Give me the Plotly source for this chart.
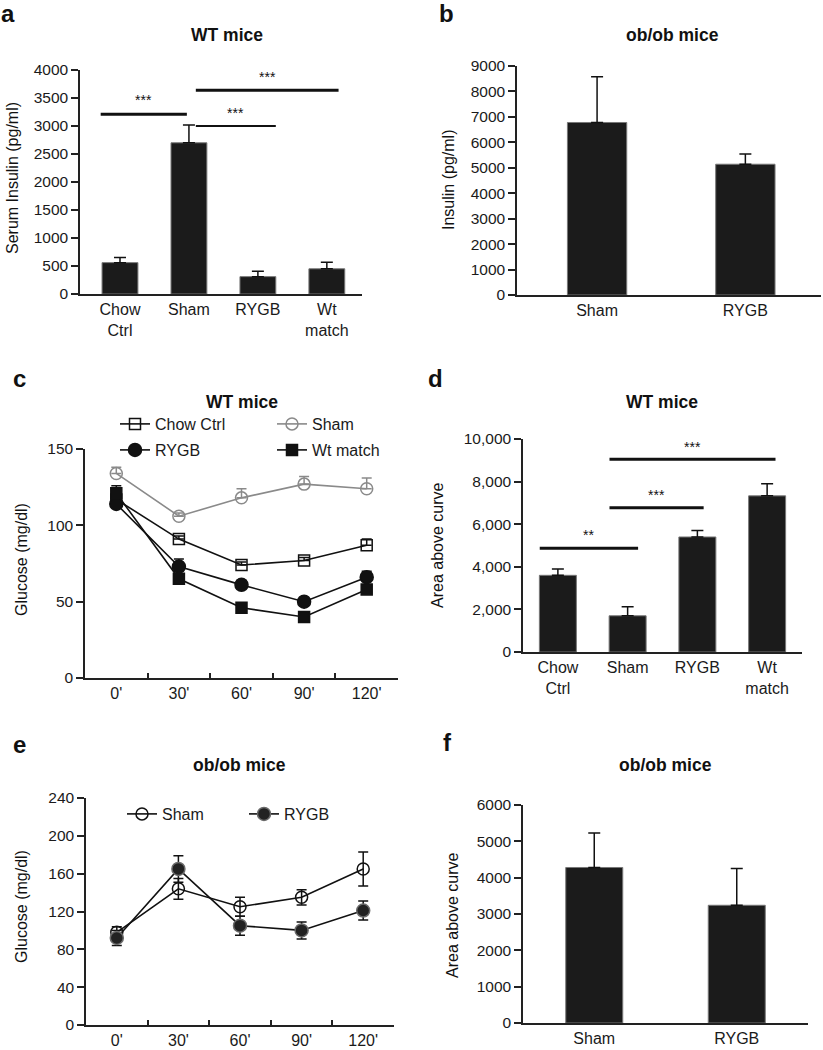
import plotly.graph_objects as go

W, H = 823, 1050
FONT = "Liberation Sans, Arial, sans-serif"

# ---------------- data ----------------
a_groups = ["Chow<br>Ctrl", "Sham", "RYGB", "Wt<br>match"]
a_insulin = [560, 2700, 310, 450]
a_insulin_err = [90, 320, 95, 115]

b_groups = ["Sham", "RYGB"]
b_insulin = [6780, 5140]
b_insulin_err = [1800, 400]

time_labels = ["0'", "30'", "60'", "90'", "120'"]
c_chow = [117, 91, 74, 77, 87]
c_chow_err = [4, 2, 2, 2, 4]
c_sham = [134, 106, 118, 127, 124]
c_sham_err = [4, 2, 6, 5, 7]
c_rygb = [114, 73, 61, 50, 66]
c_rygb_err = [3, 5, 3, 1, 4]
c_wt = [121, 65, 46, 40, 58]
c_wt_err = [5, 1, 1, 1, 1]

d_groups = ["Chow<br>Ctrl", "Sham", "RYGB", "Wt<br>match"]
d_area = [3600, 1700, 5400, 7330]
d_area_err = [300, 420, 310, 570]

e_sham = [98, 144, 125, 135, 165]
e_sham_err = [6, 11, 10, 8, 18]
e_rygb = [92, 165, 105, 100, 121]
e_rygb_err = [8, 14, 10, 9, 10]

f_groups = ["Sham", "RYGB"]
f_area = [4280, 3240]
f_area_err = [950, 1010]

# significance brackets: (x0, x1, y, label, label_y, width)
a_sig = [(-0.28, 0.97, 3210, "***", 3470, 3),
         (1.10, 2.26, 3000, "***", 3230, 2),
         (1.10, 3.17, 3640, "***", 3870, 3)]
d_sig = [(-0.26, 1.15, 4875, "**", 5490, 3),
         (0.74, 2.09, 6770, "***", 7350, 3),
         (0.74, 3.12, 9045, "***", 9640, 3)]

# ---------------- helpers ----------------
def px_x(x0, x1):
    return [x0 / W, x1 / W]

def px_y(y_top, y_bot):
    return [1 - y_bot / H, 1 - y_top / H]

fig = go.Figure()

BAR_FILL = "#1b1b1b"
AX = "#222222"
TICKF = dict(family=FONT, size=15.5, color="#1a1a1a")
CATF = dict(family=FONT, size=16, color="#1a1a1a")

def bar_trace(xs, ys, errs, axis_id, width):
    sfx = "" if axis_id == 1 else str(axis_id)
    return go.Bar(x=xs, y=ys, width=width,
                  marker=dict(color=BAR_FILL, line=dict(color="#777777", width=1)),
                  error_y=dict(type="data", array=errs, arrayminus=[0] * len(errs),
                               symmetric=False, color="#111111", thickness=1.5, width=6),
                  xaxis="x" + sfx, yaxis="y" + sfx, showlegend=False)

fig.add_trace(bar_trace(a_groups, a_insulin, a_insulin_err, 1, 0.52))
fig.add_trace(bar_trace(b_groups, b_insulin, b_insulin_err, 2, 0.40))
fig.add_trace(bar_trace(d_groups, d_area, d_area_err, 4, 0.53))
fig.add_trace(bar_trace(f_groups, f_area, f_area_err, 6, 0.40))

def line_trace(ys, errs, name, color, symbol, size, legend, axis_id, sym_err=False, mline=None, mcolor=None):
    sfx = str(axis_id)
    if sym_err:
        err = dict(type="data", array=errs, color=color, thickness=1.5, width=5)
    else:
        err = dict(type="data", array=errs, arrayminus=[0] * len(errs), symmetric=False,
                   color=color, thickness=1.5, width=5)
    return go.Scatter(x=time_labels, y=ys, name=name, mode="lines+markers",
                      line=dict(color=color, width=1.6),
                      marker=dict(symbol=symbol, size=size,
                                  color=mcolor if mcolor else color,
                                  line=dict(color=mline if mline else color, width=1.5)),
                      error_y=err, xaxis="x" + sfx, yaxis="y" + sfx, legend=legend)

fig.add_trace(line_trace(c_chow, c_chow_err, "Chow Ctrl", "#111111", "square-open", 11, "legend", 3))
fig.add_trace(line_trace(c_sham, c_sham_err, "Sham", "#8a8a8a", "circle-open", 12, "legend", 3))
fig.add_trace(line_trace(c_rygb, c_rygb_err, "RYGB", "#111111", "circle", 13, "legend2", 3))
fig.add_trace(line_trace(c_wt, c_wt_err, "Wt match", "#111111", "square", 11, "legend2", 3))

fig.add_trace(line_trace(e_sham, e_sham_err, "Sham", "#111111", "circle-open", 12, "legend3", 5, sym_err=True))
fig.add_trace(line_trace(e_rygb, e_rygb_err, "RYGB", "#111111", "circle", 13, "legend3", 5, sym_err=True,
                         mline="#6a6a6a", mcolor="#222222"))

# ---------------- axes ----------------
def yaxis(domain, rng, dtick, fmt=None, anchor="x"):
    d = dict(domain=domain, range=rng, dtick=dtick, tick0=0, showgrid=False, zeroline=False,
             showline=True, linecolor=AX, linewidth=1.5, ticks="outside", ticklen=7,
             tickwidth=1.5, tickcolor=AX, tickfont=TICKF, anchor=anchor, fixedrange=True,
             automargin=False)
    if fmt:
        d["tickformat"] = fmt
    return d

def xaxis_bar(domain, rng, anchor):
    return dict(domain=domain, range=rng, type="category", showgrid=False, zeroline=False,
                showline=True, linecolor=AX, linewidth=1.5, ticks="", tickfont=CATF,
                anchor=anchor, fixedrange=True, automargin=False)

def xaxis_line(domain, anchor):
    return dict(domain=domain, range=[-0.5, 4.5], type="category", showgrid=False, zeroline=False,
                showline=True, linecolor=AX, linewidth=1.5, ticks="inside", ticklen=5,
                tickwidth=1.5, tickcolor=AX, tickson="boundaries",
                tickfont=CATF, anchor=anchor, fixedrange=True, automargin=False)

fig.update_layout(
    xaxis=xaxis_bar(px_x(80, 362), [-0.58, 3.51], "y"),
    yaxis=yaxis(px_y(70, 294), [0, 4000], 500, anchor="x"),
    xaxis2=xaxis_bar(px_x(517, 821), [-0.54, 1.51], "y2"),
    yaxis2=yaxis(px_y(66, 295), [0, 9000], 1000, anchor="x2"),
    xaxis3=xaxis_line(px_x(85, 398), "y3"),
    yaxis3=yaxis(px_y(449, 678), [0, 150], 50, anchor="x3"),
    xaxis4=xaxis_bar(px_x(523, 802), [-0.5, 3.5], "y4"),
    yaxis4=yaxis(px_y(439, 652), [0, 10000], 2000, fmt=",", anchor="x4"),
    xaxis5=xaxis_line(px_x(86, 394), "y5"),
    yaxis5=yaxis(px_y(798, 1025), [0, 240], 40, anchor="x5"),
    xaxis6=xaxis_bar(px_x(523, 808), [-0.5, 1.5], "y6"),
    yaxis6=yaxis(px_y(805, 1023), [0, 6000], 1000, anchor="x6"),
)

LEGF = dict(family=FONT, size=16, color="#1a1a1a")
def legend(x_px, y_px, ew):
    return dict(orientation="h", x=x_px / W, y=1 - y_px / H, xanchor="left", yanchor="middle",
                entrywidth=ew, entrywidthmode="pixels", font=LEGF, bgcolor="rgba(0,0,0,0)",
                borderwidth=0, itemclick=False, itemdoubleclick=False, tracegroupgap=0)

fig.update_layout(
    legend=legend(115, 424, 112),
    legend2=legend(115, 450, 112),
    legend3=legend(122, 814, 77),
)

# ---------------- shapes (significance bars) ----------------
shapes = []
annotations = []
for (x0, x1, y, lab, ly, w) in a_sig:
    shapes.append(dict(type="line", xref="x", yref="y", x0=x0, x1=x1, y0=y, y1=y,
                       line=dict(color="#111111", width=w)))
    annotations.append(dict(xref="x", yref="y", x=(x0 + x1) / 2, y=ly, text=lab, showarrow=False,
                            font=dict(family=FONT, size=14, color="#111111")))
for (x0, x1, y, lab, ly, w) in d_sig:
    shapes.append(dict(type="line", xref="x4", yref="y4", x0=x0, x1=x1, y0=y, y1=y,
                       line=dict(color="#111111", width=w)))
    annotations.append(dict(xref="x4", yref="y4", x=(x0 + x1) / 2, y=ly, text=lab, showarrow=False,
                            font=dict(family=FONT, size=14, color="#111111")))

def pap(text, xp, yp, size, bold=False, angle=0):
    annotations.append(dict(xref="paper", yref="paper", x=xp / W, y=1 - yp / H,
                            text=f"<b>{text}</b>" if bold else text, showarrow=False,
                            textangle=angle, xanchor="center", yanchor="middle",
                            font=dict(family=FONT, size=size, color="#111111")))

for lab, xp, yp in [("a", 8, 14), ("b", 446, 13), ("c", 19, 379), ("d", 436, 378), ("e", 19, 744), ("f", 447, 742)]:
    pap(lab, xp, yp, 24, bold=True)
for lab, xp, yp in [("WT mice", 227, 35), ("ob/ob mice", 672, 35), ("WT mice", 242, 402),
                    ("WT mice", 662, 402), ("ob/ob mice", 240, 765), ("ob/ob mice", 665, 765)]:
    pap(lab, xp, yp, 17.5, bold=True)
for lab, xp, yp in [("Serum Insulin (pg/ml)", 12, 178), ("Insulin (pg/ml)", 448, 180),
                    ("Glucose (mg/dl)", 21, 560), ("Area above curve", 437, 545),
                    ("Glucose (mg/dl)", 21, 907), ("Area above curve", 452, 915)]:
    pap(lab, xp, yp, 16, angle=-90)

fig.update_layout(shapes=shapes, annotations=annotations, width=W, height=H,
                  margin=dict(l=0, r=0, t=0, b=0, autoexpand=False), paper_bgcolor="white",
                  plot_bgcolor="white", font=dict(family=FONT, color="#1a1a1a"), bargap=0.3)

fig.write_html("out.html", config={"displayModeBar": False},
               post_script="document.body.style.margin='0';document.body.style.padding='0';")
